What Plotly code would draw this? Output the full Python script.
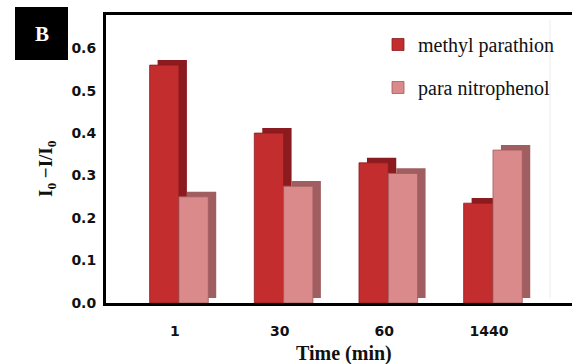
import plotly.graph_objects as go

categories = ["1", "30", "60", "1440"]
methyl_parathion = [0.56, 0.40, 0.33, 0.235]
para_nitrophenol = [0.25, 0.275, 0.305, 0.36]
series_names = ["methyl parathion", "para nitrophenol"]
ytick_vals = [0.0, 0.1, 0.2, 0.3, 0.4, 0.5, 0.6]

W, H = 572, 364
ML, MR, MT, MB = 106, 0, 15, 61
PW, PH = W - ML - MR, H - MT - MB

def px_x(px):
    return (px - ML) / PW

def px_y(py):
    return (H - MB - py) / PH

BW = 0.28        # bar face width (category units)
DX = 0.076       # 3D depth offset (category units)
DY = 0.012       # 3D depth offset (value units)

front_cols = ["#c42d2e", "#da8a8a"]
side_cols = ["#8c1b1f", "#a05e61"]
offsets = [-BW, 0.0]
data = [methyl_parathion, para_nitrophenol]

fig = go.Figure()
for i in range(2):
    fig.add_trace(go.Bar(
        x=categories, y=data[i], base=DY, width=BW, offset=offsets[i] + DX,
        marker=dict(color=side_cols[i], line=dict(width=0)),
        showlegend=False, hoverinfo="skip"))
    fig.add_trace(go.Bar(
        x=categories, y=data[i], width=BW, offset=offsets[i],
        name=series_names[i], legendgroup=series_names[i],
        marker=dict(color=front_cols[i], line=dict(width=0.8, color=side_cols[i]))))

fig.update_layout(
    width=W, height=H,
    margin=dict(l=ML, r=MR, t=MT, b=MB, autoexpand=False),
    barmode="overlay",
    plot_bgcolor="white", paper_bgcolor="white",
    showlegend=True,
    legend=dict(
        xref="paper", yref="paper",
        x=px_x(378), y=px_y(25), xanchor="left", yanchor="top",
        font=dict(family="Liberation Serif", size=20, color="#111"),
        tracegroupgap=14, itemwidth=30, bgcolor="rgba(0,0,0,0)"),
    xaxis=dict(
        type="category", range=[-0.697, 3.755], automargin=False,
        showline=True, linecolor="black", linewidth=3, mirror=True,
        ticks="", showgrid=False, zeroline=False,
        tickfont=dict(family="DejaVu Sans", size=14, color="#111", weight="bold"),
        ticklabelstandoff=13, ticklabelshift=-4),
    yaxis=dict(
        range=[0, 0.678], tickvals=ytick_vals, tickformat=".1f", automargin=False,
        showline=True, linecolor="black", linewidth=3, mirror=False,
        ticks="", showgrid=False, zeroline=False,
        tickfont=dict(family="DejaVu Sans", size=14, color="#111", weight="bold"),
        ticklabelstandoff=4),
)

# faint back-wall edge
fig.add_shape(type="line", xref="paper", yref="paper",
              x0=px_x(550), x1=px_x(550), y0=px_y(298), y1=px_y(20),
              line=dict(color="#ececec", width=1), layer="below")

# panel label "B"
fig.add_shape(type="rect", xref="paper", yref="paper",
              x0=px_x(15), x1=px_x(68), y0=px_y(60), y1=px_y(7),
              fillcolor="black", line=dict(width=0))
fig.add_annotation(text="<b>B</b>", xref="paper", yref="paper",
                   x=px_x(41.5), y=px_y(33.5), showarrow=False,
                   xanchor="center", yanchor="middle",
                   font=dict(family="Liberation Serif", size=21, color="white"))

# y-axis title
fig.add_annotation(text="<b>I<sub>0</sub> \u2212I/I<sub>0</sub></b>", xref="paper", yref="paper",
                   x=px_x(47), y=px_y(169), showarrow=False, textangle=-90,
                   xanchor="center", yanchor="middle",
                   font=dict(family="Liberation Serif", size=19, color="#111"))

# x-axis title
fig.add_annotation(text="<b>Time (min)</b>", xref="paper", yref="paper",
                   x=px_x(344), y=px_y(353), showarrow=False,
                   xanchor="center", yanchor="middle",
                   font=dict(family="Liberation Serif", size=20, color="#111"))

fig.write_html("out.html", config={"displayModeBar": False},
               post_script="document.body.style.margin='0';")
